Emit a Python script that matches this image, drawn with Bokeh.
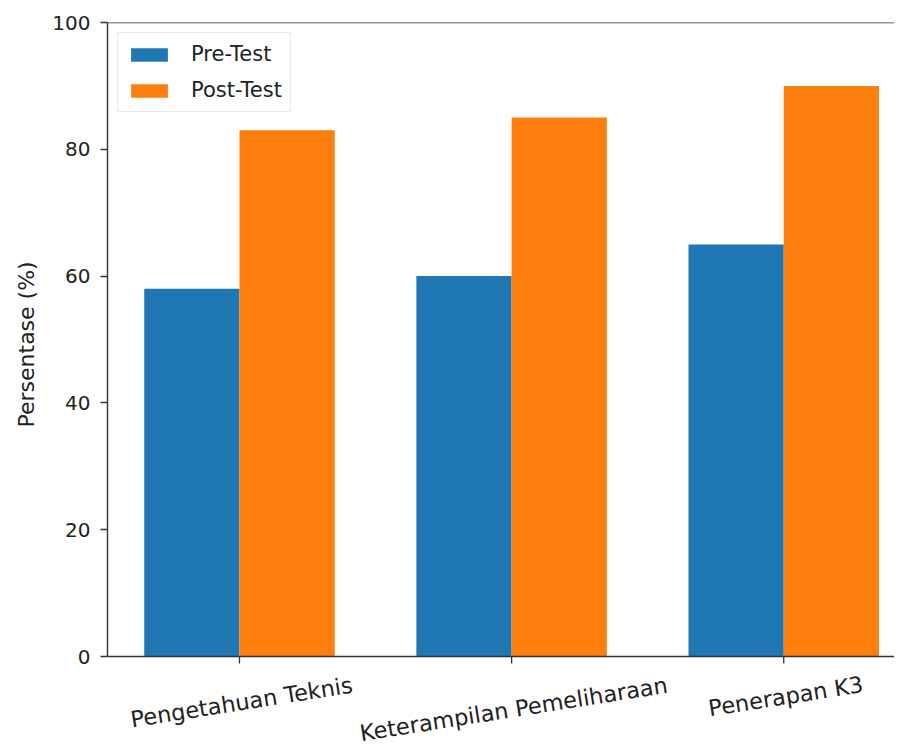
import math
from bokeh.plotting import figure
from bokeh.models import ColumnDataSource, FixedTicker, Legend, LegendItem, Span, Title
from bokeh.core.properties import value
from bokeh.embed import file_html
from bokeh.resources import INLINE

categories = ["Pengetahuan Teknis", "Keterampilan Pemeliharaan", "Penerapan K3"]
pre_test = [58, 60, 65]
post_test = [83, 85, 90]
y_ticks = [0, 20, 40, 60, 80, 100]

FONT = "DejaVu Sans"
FS = "20px"
XFS = 22.5
ANG = math.radians(9)

# layout (pixels)
W, H = 894, 748
TOP, LEFT = 22, 106
AX_H = 634                      # pixel height of 0..100
PX = AX_H / 100.0               # px per data unit
Y_MIN = -(H - TOP - AX_H) / PX  # room below zero for category labels

bar_w = 0.35
idx = list(range(len(categories)))
src = ColumnDataSource(dict(
    x_pre=[i - bar_w / 2 for i in idx],
    x_post=[i + bar_w / 2 for i in idx],
    pre=pre_test,
    post=post_test,
))

p = figure(width=W, height=H, output_backend="svg", toolbar_location=None,
           x_range=(-0.485, 2.407), y_range=(Y_MIN, 100),
           min_border_left=LEFT, min_border_right=0, min_border_top=TOP, min_border_bottom=0)

r_pre = p.vbar(x="x_pre", top="pre", bottom=0, width=bar_w, source=src,
               fill_color="#1f77b4", line_color=None)
r_post = p.vbar(x="x_post", top="post", bottom=0, width=bar_w, source=src,
                fill_color="#ff7f0e", line_color=None)

p.xgrid.visible = False
p.ygrid.visible = False
p.xaxis.visible = False
p.outline_line_color = None
p.background_fill_color = "white"
p.border_fill_color = "white"

yax = p.yaxis[0]
yax.ticker = FixedTicker(ticks=y_ticks)
yax.bounds = (0, 100)
yax.minor_tick_line_color = None
yax.axis_line_color = "#333333"
yax.axis_line_width = 1.4
yax.major_tick_line_color = "#333333"
yax.major_tick_line_width = 1.3
yax.major_tick_in = 0
yax.major_tick_out = 7
yax.major_label_text_font = FONT
yax.major_label_text_font_size = FS
yax.major_label_text_color = "#222222"
yax.major_label_standoff = 10

# y axis title, placed along the 0..100 part of the axis
LAB_LEN = 176
ytitle = Title(text="Persentase (%)", align="left",
               offset=(H - TOP - AX_H) + (AX_H - LAB_LEN) / 2,
               text_font=FONT, text_font_size="22px", text_font_style="normal",
               text_color="#222222", standoff=22)
p.add_layout(ytitle, "left")

# bottom and top spines
p.add_layout(Span(location=0, dimension="width", line_color="#333333", line_width=1.4))
p.add_layout(Span(location=100, dimension="width", line_color="#333333", line_width=1.6))

# x ticks
p.segment(x0=idx, y0=[0] * len(idx), x1=idx, y1=[-7 / PX] * len(idx),
          line_color="#333333", line_width=1.3)

# category labels, rotated, centred under each tick, tops aligned
est_len = [len(c) * 0.56 * XFS for c in categories]
lab_src = ColumnDataSource(dict(
    x=idx, text=categories,
    y=[-(15 + (L / 2) * math.sin(ANG)) / PX for L in est_len],
))
p.text(x="x", y="y", text="text", source=lab_src, angle=ANG,
       text_align="center", text_baseline="top",
       text_font=value(FONT), text_font_size=f"{XFS}px", text_color="#222222")

legend = Legend(items=[LegendItem(label="Pre-Test", renderers=[r_pre]),
                       LegendItem(label="Post-Test", renderers=[r_post])],
                location="top_left", margin=10, padding=8, spacing=10,
                glyph_width=46, glyph_height=17, label_height=26, label_standoff=19,
                label_text_font=FONT, label_text_font_size="21px", label_text_color="#222222",
                border_line_color="#d4d4d4", border_line_width=1.2,
                background_fill_alpha=0.9)
p.add_layout(legend)

open("out.html", "w").write(file_html(p, INLINE))
